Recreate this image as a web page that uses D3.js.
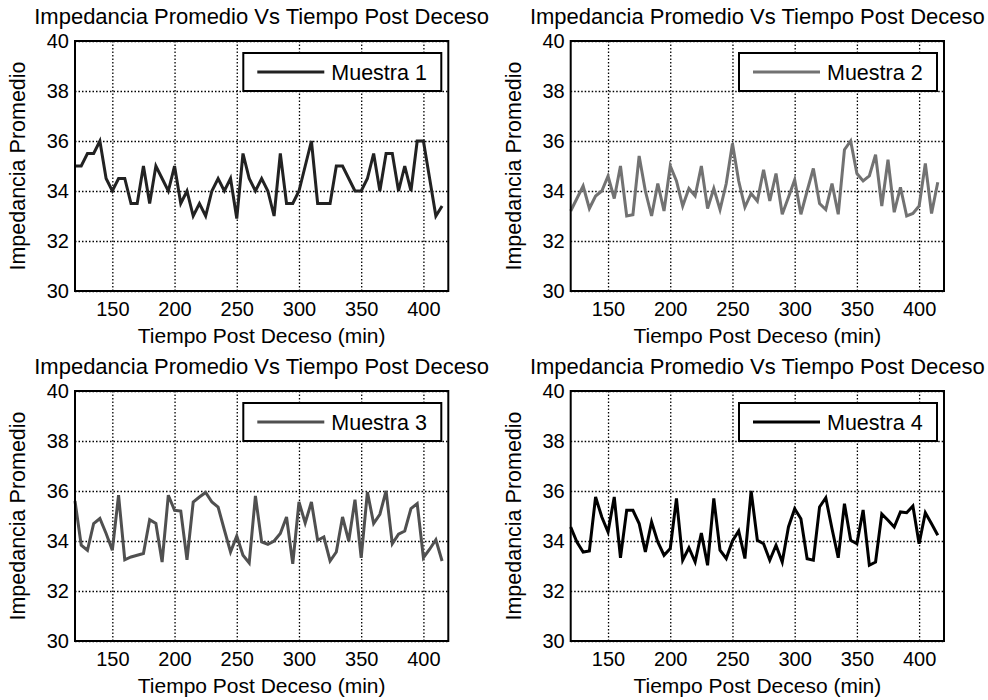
<!DOCTYPE html>
<html><head><meta charset="utf-8">
<script src="https://cdn.jsdelivr.net/npm/d3@7"></script>
<style>body{margin:0;background:#fff}svg{display:block}text{font-family:Arial,"Liberation Sans",sans-serif;fill:#000}</style>
</head><body><div id="chart"></div>
<script>
const times = d3.range(120, 416, 5);
const xTicks = [150, 200, 250, 300, 350, 400];
const yTicks = [30, 32, 34, 36, 38, 40];
const titleText = "Impedancia Promedio Vs Tiempo Post Deceso";
const xLabel = "Tiempo Post Deceso (min)";
const yLabel = "Impedancia Promedio";
const seriesNames = ["Muestra 1", "Muestra 2", "Muestra 3", "Muestra 4"];
const seriesColors = ["#222222", "#727272", "#505050", "#000000"];
const muestra1 = [35,35,35.5,35.5,36,34.5,34,34.5,34.5,33.5,33.5,35,33.5,35,34.5,34,35,33.5,34,33,33.5,33,34,34.5,34,34.5,32.9,35.5,34.5,34,
  34.5,34,33,35.5,33.5,33.5,34,35,36,33.5,33.5,33.5,35,35,34.5,34,34,34.5,35.5,34,35.5,35.5,34,35,34,36,36,34.5,33,33.4];
const muestra2 = [33.2,33.7,34.2,33.3,33.8,34.0,34.6,33.7,35.0,33.0,33.05,35.4,34.0,33.0,34.3,33.2,35.0,34.4,33.4,34.1,33.8,35.0,33.3,34.1,33.25,34.3,35.9,34.4,33.35,33.9,
  33.6,34.85,33.6,34.7,33.07,33.75,34.45,33.07,34.0,34.9,33.5,33.26,34.3,33.07,35.65,36.0,34.7,34.4,34.6,35.45,33.4,35.25,33.15,34.15,33.0,33.1,33.4,35.1,33.1,34.35];
const muestra3 = [35.6,33.83,33.63,34.7,34.9,34.3,33.63,35.83,33.25,33.36,33.43,33.5,34.85,34.7,33.16,35.83,35.23,35.2,33.25,35.56,35.76,35.94,35.56,35.36,34.45,33.56,34.2,33.43,33.12,35.8,
  33.96,33.87,34.0,34.3,34.96,33.09,35.56,34.72,35.56,34.03,34.16,33.2,33.56,34.96,34.0,35.65,33.33,35.96,34.7,35.07,36.0,33.89,34.27,34.4,35.3,35.5,33.33,33.67,34.05,33.2];
const muestra4 = [34.56,33.96,33.56,33.6,35.76,34.96,34.36,35.76,33.33,35.23,35.23,34.7,33.56,34.76,33.96,33.43,33.7,35.7,33.23,33.73,33.16,34.32,33.03,35.7,33.63,33.3,34.0,34.4,33.3,36.0,
  34.03,33.89,33.23,33.83,33.16,34.56,35.29,34.89,33.29,33.23,35.36,35.73,34.49,33.33,35.49,34.03,33.89,35.24,33.03,33.16,35.08,34.83,34.56,35.16,35.13,35.4,33.89,35.13,34.69,34.23];
const allSeries = [muestra1, muestra2, muestra3, muestra4];

const W = 988, H = 700;
const svg = d3.select("#chart").append("svg").attr("width", W).attr("height", H);
const plotW = 373.3, plotH = 250;
const lefts = [75, 570.7], tops = [41, 391];

allSeries.forEach((vals, i) => {
  const L = lefts[i % 2], T = tops[Math.floor(i / 2)];
  const x = d3.scaleLinear().domain([120, 420]).range([0, plotW]);
  const y = d3.scaleLinear().domain([30, 40]).range([plotH, 0]);
  const g = svg.append("g").attr("transform", `translate(${L},${T})`);

  const gx = g.append("g").attr("transform", `translate(0,${plotH})`)
    .call(d3.axisBottom(x).tickValues(xTicks).tickSize(-plotH).tickFormat(""));
  gx.select(".domain").remove();
  gx.selectAll("line").attr("stroke", "#000").attr("stroke-width", 1.3).attr("stroke-dasharray", "1.5,2");
  const gy = g.append("g")
    .call(d3.axisLeft(y).tickValues(yTicks).tickSize(-plotW).tickFormat(""));
  gy.select(".domain").remove();
  gy.selectAll("line").attr("stroke", "#000").attr("stroke-width", 1.3).attr("stroke-dasharray", "1.5,2");

  const ax = g.append("g").attr("transform", `translate(0,${plotH})`)
    .call(d3.axisBottom(x).tickValues(xTicks).tickSize(0).tickPadding(10));
  ax.select(".domain").remove();
  ax.selectAll("text").attr("font-size", 20).attr("dy", "0.75em");
  const ay = g.append("g")
    .call(d3.axisLeft(y).tickValues(yTicks).tickSize(0).tickPadding(6));
  ay.select(".domain").remove();
  ay.selectAll("text").attr("font-size", 20);

  const line = d3.line().x((d, j) => x(times[j])).y(d => y(d));
  g.append("path").datum(vals).attr("d", line).attr("fill", "none")
    .attr("stroke", seriesColors[i]).attr("stroke-width", 3).attr("stroke-linejoin", "miter");

  g.append("rect").attr("width", plotW).attr("height", plotH).attr("fill", "none")
    .attr("stroke", "#000").attr("stroke-width", 2);

  const lg = g.append("g").attr("transform", `translate(${plotW - 205},12)`);
  lg.append("rect").attr("width", 198).attr("height", 38).attr("fill", "#fff")
    .attr("stroke", "#000").attr("stroke-width", 2);
  lg.append("line").attr("x1", 14).attr("x2", 81).attr("y1", 19).attr("y2", 19)
    .attr("stroke", seriesColors[i]).attr("stroke-width", 3);
  lg.append("text").attr("x", 88).attr("y", 19).attr("dy", "0.36em").attr("font-size", 21.5).text(seriesNames[i]);

  g.append("text").attr("x", plotW / 2).attr("y", -17).attr("text-anchor", "middle")
    .attr("font-size", 22).text(titleText);
  g.append("text").attr("x", plotW / 2).attr("y", plotH + 52).attr("text-anchor", "middle")
    .attr("font-size", 21).text(xLabel);
  g.append("text").attr("transform", `translate(${-50},${plotH / 2}) rotate(-90)`)
    .attr("text-anchor", "middle").attr("font-size", 21.5).text(yLabel);
});
</script></body></html>
